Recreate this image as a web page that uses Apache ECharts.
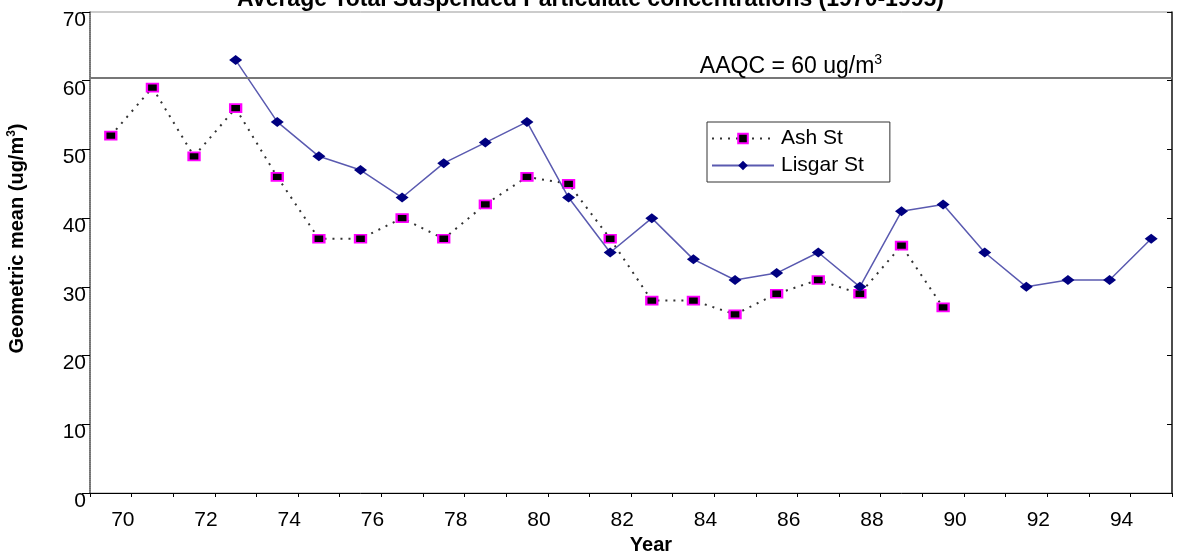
<!DOCTYPE html>
<html>
<head>
<meta charset="utf-8">
<script src="https://cdn.jsdelivr.net/npm/echarts@6/dist/echarts.min.js"></script>
<style>
  html, body { margin: 0; padding: 0; background: #fff; }
  #chart { width: 1181px; height: 552px; }
</style>
</head>
<body>
<div id="chart"></div>
<script>
// TSP geometric means, Ash St vs Lisgar St
var years = ["70", "71", "72", "73", "74", "75", "76", "77", "78", "79", "80", "81", "82",
             "83", "84", "85", "86", "87", "88", "89", "90", "91", "92", "93", "94", "95"];
var ashSt = [52, 59, 49, 56, 46, 37, 37, 40, 37, 42, 46, 45, 37,
             28, 28, 26, 29, 31, 29, 36, 27, null, null, null, null, null];
var lisgarSt = [null, null, null, 63, 54, 49, 47, 43, 48, 51, 54, 43, 35,
                40, 34, 31, 32, 35, 30, 41, 42, 35, 30, 31, 31, 37];
var aaqcLevel = 60.5;
var yTicks = [0, 10, 20, 30, 40, 50, 60, 70];

var font = "'Liberation Sans', Arial, sans-serif";
var chart = echarts.init(document.getElementById("chart"));

chart.setOption({
  animation: false,
  backgroundColor: "#fff",
  title: {
    text: "Average Total Suspended Particulate concentrations (1970-1995)",
    left: "center",
    top: -17,
    textStyle: { fontFamily: font, fontSize: 23, fontWeight: "bold", color: "#000" }
  },
  grid: {
    left: 90, right: 9, top: 12, bottom: 59,
    outerBoundsMode: "none",
    containLabel: false,
    show: true,
    borderColor: "#999",
    borderWidth: 1
  },
  legend: {
    orient: "vertical",
    left: 707,
    top: 122,
    padding: [6, 26, 6, 4],
    itemWidth: 62,
    itemHeight: 12,
    itemGap: 6,
    borderColor: "#333",
    borderWidth: 1,
    textStyle: { fontFamily: font, fontSize: 21, color: "#000", padding: [0, 0, 0, 2] },
    data: ["Ash St", "Lisgar St"]
  },
  xAxis: {
    type: "category",
    data: years,
    boundaryGap: true,
    name: "Year",
    nameLocation: "middle",
    nameGap: 40,
    nameTextStyle: { fontFamily: font, fontSize: 20, fontWeight: "bold", color: "#000", padding: [0, 0, 0, 40] },
    axisLine: { lineStyle: { color: "#000", width: 1 } },
    axisTick: { show: true, length: 4, interval: 0, lineStyle: { color: "#000" } },
    axisLabel: {
      interval: 1,
      margin: 17,
      padding: [0, 0, 0, 24],
      fontFamily: font,
      fontSize: 21,
      color: "#000"
    },
    splitLine: { show: false }
  },
  yAxis: [
    {
      type: "value",
      min: 0,
      max: 70,
      interval: 10,
      name: "{a|Geometric mean (ug/m}{s|3}{a|)}",
      nameLocation: "middle",
      nameGap: 62,
      nameTextStyle: {
        padding: [0, 0, 0, 28],
        rich: {
          a: { fontFamily: "'Liberation Sans Narrow', 'Arial Narrow', " + font, fontSize: 20, fontWeight: "bold", color: "#000" },
          s: { fontFamily: font, fontSize: 12, fontWeight: "bold", color: "#000", padding: [0, 0, 10, 0] }
        }
      },
      axisLine: { show: true, lineStyle: { color: "#555", width: 1.5, type: [1, 1] } },
      axisTick: { show: true, length: 8, lineStyle: { color: "#000" } },
      axisLabel: {
        margin: 4,
        verticalAlign: "top",
        lineHeight: 16,
        fontFamily: font,
        fontSize: 21,
        color: "#000",
        formatter: function (v) { return yTicks.indexOf(v) >= 0 ? String(v) : ""; }
      },
      splitLine: { show: false }
    },
    {
      type: "value",
      position: "right",
      min: 0,
      max: 70,
      interval: 10,
      axisLine: { show: true, lineStyle: { color: "#222", width: 1.5 } },
      axisTick: { show: true, inside: true, length: 5, lineStyle: { color: "#000" } },
      axisLabel: { show: false },
      splitLine: { show: false }
    }
  ],
  series: [
    {
      name: "Ash St",
      type: "line",
      data: ashSt,
      connectNulls: false,
      symbol: "rect",
      symbolSize: [11, 8],
      itemStyle: { color: "#000", borderColor: "#ff00ff", borderWidth: 2 },
      lineStyle: { color: "#333", width: 2, type: [2, 6] },
      markLine: {
        silent: true,
        symbol: "none",
        lineStyle: { color: "#777", width: 2, type: "solid" },
        label: {
          position: "insideMiddleTop",
          offset: [160, 7],
          formatter: "{a|AAQC = 60 ug/m}{s|3}",
          rich: {
            a: { fontFamily: font, fontSize: 23, color: "#000" },
            s: { fontFamily: font, fontSize: 14, color: "#000", padding: [0, 0, 12, 0] }
          }
        },
        data: [{ yAxis: aaqcLevel }]
      },
      z: 3
    },
    {
      name: "Lisgar St",
      type: "line",
      data: lisgarSt,
      symbol: "diamond",
      symbolSize: [13, 10],
      itemStyle: { color: "#000080" },
      lineStyle: { color: "#5a5ab0", width: 1.5 },
      z: 4
    }
  ]
});
</script>
</body>
</html>
